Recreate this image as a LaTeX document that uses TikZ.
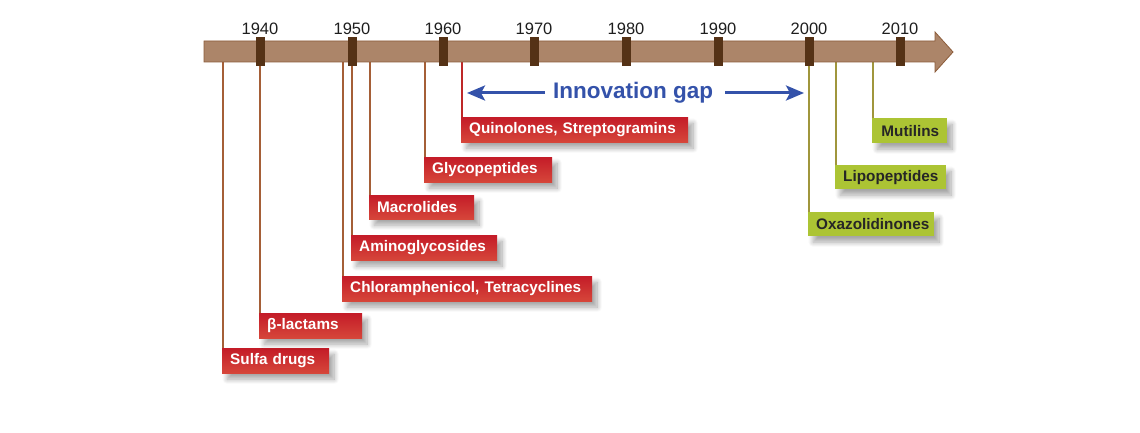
\documentclass[tikz,border=0pt]{standalone}
\usepackage{fontspec}
\setmainfont{Liberation Sans}
\usetikzlibrary{shadows.blur,arrows.meta}
\definecolor{barfill}{RGB}{172,133,105}
\definecolor{barline}{RGB}{140,92,58}
\definecolor{tickc}{RGB}{85,50,22}
\definecolor{brownline}{RGB}{165,95,55}
\definecolor{redline}{RGB}{190,40,40}
\definecolor{greenline}{RGB}{160,150,60}
\definecolor{redtop}{RGB}{196,28,40}
\definecolor{redbot}{RGB}{214,70,58}
\definecolor{greenfill}{RGB}{172,196,52}
\definecolor{gapblue}{RGB}{52,82,170}
\definecolor{yeartext}{RGB}{30,30,30}
\tikzset{
  labelbox/.style={anchor=north west, inner xsep=8pt, inner ysep=0pt,
    minimum height=25pt, align=left,
    font=\bfseries\fontsize{15.3}{15.3}\selectfont,
    blur shadow={shadow xshift=5pt, shadow yshift=-6pt, shadow blur steps=10, shadow blur radius=5pt, shadow opacity=35}},
  redbox/.style={labelbox, text=white, top color=redtop, bottom color=redbot},
  greenbox/.style={labelbox, text=black!85, fill=greenfill},
  tickbox/.style={fill=tickc, draw=none},
  yearlabel/.style={font=\fontsize{16.5}{16.5}\selectfont, text=yeartext},
  bline/.style={draw=brownline, line width=1.8pt},
  rline/.style={draw=redline, line width=1.8pt},
  gline/.style={draw=greenline, line width=1.8pt},
  gaparrow/.style={draw=gapblue, line width=3pt, -{Stealth[length=18pt,width=15pt,inset=4pt]}}
}
\begin{document}
\begin{tikzpicture}[x=1pt,y=-1pt]
\useasboundingbox (0,0) rectangle (1140,433);

% line tops on the bar
\coordinate (t1) at (223,60);
\coordinate (t2) at (260,60);
\coordinate (t3) at (343,60);
\coordinate (t4) at (352,60);
\coordinate (t5) at (370,60);
\coordinate (t6) at (425,60);
\coordinate (t7) at (462,60);
\coordinate (t8) at (809,60);
\coordinate (t9) at (836,60);
\coordinate (t10) at (873,60);

% label boxes
\node[redbox, text width=91pt] (sulfa) at (222,348) {Sulfa drugs};
\node[redbox, text width=87pt] (blact) at (259,313) {β-lactams};
\node[redbox, text width=234pt] (chlor) at (342,276) {Chloramphenicol, Tetracyclines};
\node[redbox, text width=130pt] (amino) at (351,235) {Aminoglycosides};
\node[redbox, text width=89pt, minimum height=24pt] (macro) at (369,195) {Macrolides};
\node[redbox, text width=112pt] (glyco) at (424,157) {Glycopeptides};
\node[redbox, text width=211pt] (quino) at (461,117) {Quinolones, Streptogramins};
\node[greenbox, text width=110pt, minimum height=24pt] (oxaz) at (808,212) {Oxazolidinones};
\node[greenbox, text width=95pt, minimum height=24pt] (lipo) at (835,165) {Lipopeptides};
\node[greenbox, text width=59pt, align=right] (mutil) at (872,118) {Mutilins};

% connectors
\draw[bline] (t1) -- (t1 |- sulfa.north);
\draw[bline] (t2) -- (t2 |- blact.north);
\draw[bline] (t3) -- (t3 |- chlor.north);
\draw[bline] (t4) -- (t4 |- amino.north);
\draw[bline] (t5) -- (t5 |- macro.north);
\draw[bline] (t6) -- (t6 |- glyco.north);
\draw[rline] (t7) -- (t7 |- quino.north);
\draw[gline] (t8) -- (t8 |- oxaz.north);
\draw[gline] (t9) -- (t9 |- lipo.north);
\draw[gline] (t10) -- (t10 |- mutil.north);

% timeline bar with arrow head
\draw[fill=barfill, draw=barline, line width=0.8pt, line join=miter]
  (204,41) -- (935,41) -- (935,32) -- (953,52) -- (935,72) -- (935,62) -- (204,62) -- cycle;

% decade ticks and labels
\foreach \yr/\xx in {1940/260,1950/352,1960/443,1970/534,1980/626,1990/718,2000/809,2010/900}{
  \fill[tickbox] (\xx-4.5,37) rectangle (\xx+4.5,66);
  \node[yearlabel] (y\yr) at (\xx,29) {\yr};
}

% innovation gap
\node[font=\bfseries\fontsize{22.5}{22.5}\selectfont, text=gapblue, inner sep=0pt] (gap) at (633,93) {Innovation gap};
\coordinate (gapL) at (467,93);
\coordinate (gapR) at (804,93);
\draw[gaparrow] ([xshift=-8pt]gap.west) -- (gapL);
\draw[gaparrow] ([xshift=12pt]gap.east) -- (gapR);
\end{tikzpicture}
\end{document}
